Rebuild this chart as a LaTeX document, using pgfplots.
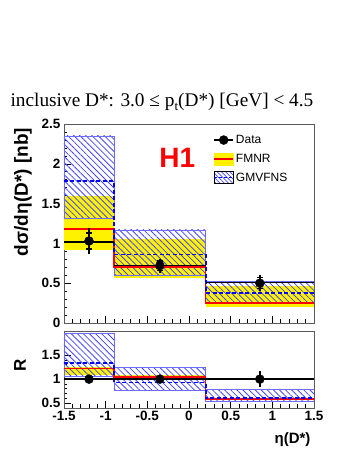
\documentclass[border=0pt]{standalone}
\usepackage{fontspec}
\setmainfont{Liberation Sans}
\newfontfamily\titlefont{Liberation Serif}
\usepackage{pgfplots}
\pgfplotsset{compat=1.18}
\usetikzlibrary{patterns.meta}
\definecolor{hatch}{RGB}{70,70,255}
\definecolor{frame}{RGB}{90,90,90}

\tikzset{
  gmv/.style={pattern={Lines[angle=-45,distance=4.3pt,line width=0.8pt]}, pattern color=hatch, draw=hatch!80, line width=0.6pt},
  fmnr/.style={fill=yellow, draw=none},
}
\pgfplotsset{
  h1axis/.style={
    scale only axis, width=250pt,
    xmin=-1.5, xmax=1.5,
    axis line style={frame, line width=0.8pt},
    tick pos=left, tick align=inside,
    major tick length=7pt, minor tick length=3.5pt,
    tick style={black, line width=0.6pt},
    xtick={-1.5,-1,-0.5,0,0.5,1,1.5},
    minor x tick num=4, minor y tick num=4,
    ticklabel style={font=\bfseries\fontsize{13.5}{15}\selectfont},
    clip=true,
  },
}

\begin{document}
\begin{tikzpicture}
\useasboundingbox (0,0) rectangle (349pt,451pt);

% ---- upper panel: cross section ----
\begin{axis}[h1axis,
  at={(64pt,128pt)}, anchor=south west, height=199pt,
  ymin=0, ymax=2.5,
  ytick={0,0.5,1,1.5,2,2.5}, yticklabels={0,0.5,1,1.5,2,2.5},
  xticklabels={},
  legend style={draw=none, fill=none, at={(rel axis cs:0.585,0.965)}, anchor=north west,
    font=\fontsize{12}{14}\selectfont, row sep=5pt, cells={anchor=west}},
  legend cell align=left,
]
% FMNR bands
\addplot[fmnr, forget plot] coordinates {(-1.5,0.92) (-0.9,0.92) (-0.9,1.59) (-1.5,1.59)} --cycle;
\addplot[fmnr, forget plot] coordinates {(-0.9,0.56) (0.2,0.56) (0.2,1.05) (-0.9,1.05)} --cycle;
\addplot[fmnr, forget plot] coordinates {(0.2,0.20) (1.5,0.20) (1.5,0.46) (0.2,0.46)} --cycle;
% GMVFNS bands
\addplot[gmv, forget plot] coordinates {(-1.5,1.32) (-0.9,1.32) (-0.9,2.35) (-1.5,2.35)} --cycle;
\addplot[gmv, forget plot] coordinates {(-0.9,0.60) (0.2,0.60) (0.2,1.17) (-0.9,1.17)} --cycle;
\addplot[gmv, forget plot] coordinates {(0.2,0.25) (1.5,0.25) (1.5,0.52) (0.2,0.52)} --cycle;
% central values
\addplot[const plot, red, line width=1.6pt, forget plot] coordinates {(-1.5,1.18) (-0.9,0.70) (0.2,0.25) (1.5,0.25)};
\addplot[const plot, blue, line width=1.8pt, dash pattern=on 4pt off 2.5pt, forget plot] coordinates {(-1.5,1.78) (-0.9,0.86) (0.2,0.38) (1.5,0.38)};
% data histogram
\addplot[black, line width=1.6pt, forget plot] coordinates {(-1.5,1.02) (-0.9,1.02)};
\addplot[black, line width=1.6pt, forget plot] coordinates {(-0.9,0.72) (0.2,0.72)};
\addplot[black, line width=1.6pt, forget plot] coordinates {(0.2,0.51) (1.5,0.51)};
% data points, total errors
\addplot[only marks, mark=*, mark size=4.5pt, black, forget plot,
  error bars/.cd, y dir=both, y explicit, error mark=none,
  error bar style={line width=1.4pt}]
  coordinates {(-1.2,1.03) +- (0,0.16) (-0.35,0.72) +- (0,0.09) (0.85,0.50) +- (0,0.10)};
% stat errors
\addplot[draw=none, mark=none, forget plot,
  error bars/.cd, y dir=both, y explicit,
  error bar style={line width=1.4pt, black},
  error mark options={rotate=90, mark size=3pt, line width=1.2pt, black}]
  coordinates {(-1.2,1.03) +- (0,0.10) (-0.35,0.72) +- (0,0.06) (0.85,0.50) +- (0,0.07)};

\addlegendimage{legend image code/.code={
  \draw[black,line width=1.5pt] (0pt,0pt) -- (19pt,0pt);
  \fill[black] (9.5pt,0pt) circle (4.5pt);}}
\addlegendentry{Data}
\addlegendimage{legend image code/.code={
  \fill[yellow] (0pt,-6pt) rectangle (19pt,6pt);
  \draw[red,line width=1.5pt] (0pt,0pt) -- (19pt,0pt);}}
\addlegendentry{FMNR}
\addlegendimage{legend image code/.code={
  \path[pattern={Lines[angle=-45,distance=3pt,line width=0.6pt]}, pattern color=hatch] (0pt,-6pt) rectangle (19pt,6pt);
  \draw[blue,line width=1.5pt, dash pattern=on 3pt off 2pt] (0pt,0pt) -- (19pt,0pt);}}
\addlegendentry{GMVFNS}

\node[text=red, font=\bfseries\fontsize{28}{30}\selectfont] at (axis cs:-0.14,2.07) {H1};
\end{axis}

% ---- lower panel: ratio ----
\begin{axis}[h1axis,
  at={(64pt,43pt)}, anchor=south west, height=77pt,
  ymin=0.4, ymax=2.0,
  ytick={0.5,1,1.5}, yticklabels={0.5,1,1.5},
  xticklabels={-1.5,-1,-0.5,0,0.5,1,1.5},
]
\addplot[fmnr] coordinates {(-1.5,1.08) (-0.9,1.08) (-0.9,1.26) (-1.5,1.26)} --cycle;
\addplot[fmnr] coordinates {(-0.9,1.03) (0.2,1.03) (0.2,1.08) (-0.9,1.08)} --cycle;
\addplot[fmnr] coordinates {(0.2,0.57) (1.5,0.57) (1.5,0.61) (0.2,0.61)} --cycle;
\addplot[gmv] coordinates {(-1.5,1.05) (-0.9,1.05) (-0.9,1.95) (-1.5,1.95)} --cycle;
\addplot[gmv] coordinates {(-0.9,0.76) (0.2,0.76) (0.2,1.24) (-0.9,1.24)} --cycle;
\addplot[gmv] coordinates {(0.2,0.54) (1.5,0.54) (1.5,0.79) (0.2,0.79)} --cycle;
\addplot[const plot, red, line width=1.6pt] coordinates {(-1.5,1.22) (-0.9,1.05) (0.2,0.59) (1.5,0.59)};
\addplot[const plot, blue, line width=1.8pt, dash pattern=on 4pt off 2.5pt] coordinates {(-1.5,1.34) (-0.9,0.93) (0.2,0.60) (1.5,0.60)};
\addplot[black, line width=1.6pt] coordinates {(-1.5,1) (1.5,1)};
\addplot[only marks, mark=*, mark size=4.5pt, black,
  error bars/.cd, y dir=both, y explicit, error mark=none,
  error bar style={line width=1.4pt}]
  coordinates {(-1.2,1) +- (0,0.08) (-0.35,1) +- (0,0.08) (0.85,1) +- (0,0.16)};
\end{axis}

% ---- texts ----
\node[anchor=base, font=\titlefont\fontsize{19.3}{22}\selectfont] at (162pt,344pt)
  {inclusive D*: 3.0 ≤ p\raisebox{-0.45ex}{\fontsize{13}{15}\selectfont t}(D*) [GeV] < 4.5};
\node[rotate=90, font=\bfseries\fontsize{19}{21}\selectfont] at (23pt,259pt) {dσ/dη(D*) [nb]};
\node[rotate=90, font=\bfseries\fontsize{17}{19}\selectfont] at (20pt,86pt) {R};
\node[anchor=base east, font=\bfseries\fontsize{15}{17}\selectfont] at (314pt,8pt) {η(D*)};
\end{tikzpicture}
\end{document}
